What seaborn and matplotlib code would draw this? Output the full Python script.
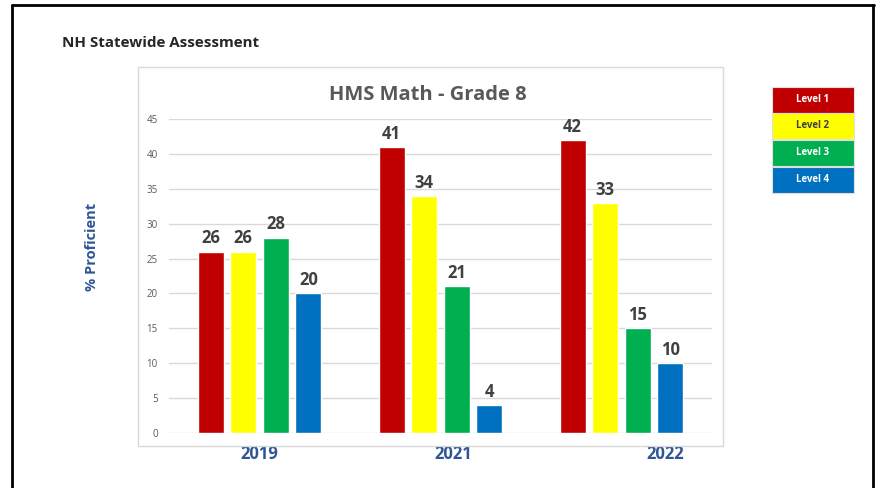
import matplotlib
matplotlib.use("Agg")
import matplotlib.pyplot as plt
import matplotlib.transforms as mtransforms
from matplotlib.patches import Rectangle
from matplotlib.lines import Line2D
import pandas as pd
import seaborn as sns

# ---- data ----
years = ["2019", "2021", "2022"]
levels = ["Level 1", "Level 2", "Level 3", "Level 4"]
level1 = [26, 41, 42]
level2 = [26, 34, 33]
level3 = [28, 21, 15]
level4 = [20, 4, 10]
level_colors = ["#C00000", "#FFFF00", "#00B050", "#0070C0"]
legend_text_colors = ["white", "#404040", "white", "white"]

rows = []
for lvl, vals in zip(levels, [level1, level2, level3, level4]):
    for yr, v in zip(years, vals):
        rows.append({"year": yr, "level": lvl, "pct": v})
df = pd.DataFrame(rows)

sns.set_theme(style="white")
plt.rcParams["font.family"] = ["Open Sans", "DejaVu Sans"]

W, H = 878, 488
fig = plt.figure(figsize=(W / 100, H / 100), dpi=100)
fig.patch.set_facecolor("white")

def fx(px):
    return px / W

def fy(py):
    return 1 - py / H

# plot area
ax = fig.add_axes([fx(169), fy(433), fx(712) - fx(169), (433 - 119) / H])
sns.barplot(data=df, x="year", y="pct", hue="level", hue_order=levels,
            order=years, palette=level_colors, saturation=1,
            width=0.72, gap=0.2, legend=False, ax=ax)

ax.set_xlim(-0.5, 2.5)
ax.set_ylim(0, 45)
ax.set_yticks(range(0, 46, 5))
ax.yaxis.grid(True, color="#D9D9D9", linewidth=1)
ax.set_axisbelow(True)
for s in ax.spines.values():
    s.set_visible(False)
ax.tick_params(axis="y", length=0, pad=8, labelsize=7, labelcolor="#595959")
ax.tick_params(axis="x", length=0, labelbottom=False)
ax.set_xlabel("")
ax.set_ylabel("")

for cont in ax.containers:
    ax.bar_label(cont, padding=3, fontsize=12, fontweight="bold",
                 color="#404040", clip_on=False)

# year labels below the groups
year_offsets = [0.0, 0.07, 0.24]
trans = mtransforms.blended_transform_factory(ax.transData, fig.transFigure)
for i, (yr, off) in enumerate(zip(years, year_offsets)):
    ax.text(i + off, fy(454), yr, transform=trans, ha="center", va="center",
            fontsize=12, fontweight="bold", color="#2F5597")

# chart frame
fig.patches.append(Rectangle((fx(138), fy(446)), fx(723) - fx(138), (446 - 67) / H,
                             transform=fig.transFigure, fill=False,
                             edgecolor="#D9D9D9", linewidth=1))

# chart title
fig.text(fx(428), fy(95), "HMS Math - Grade 8", ha="center", va="center",
         fontsize=14.5, fontweight="bold", color="#595959")

# axis title
fig.text(fx(92), fy(247), "% Proficient", rotation=90, ha="center", va="center",
         fontsize=10.5, fontweight="bold", color="#2F5597")

# slide heading
fig.text(fx(62), fy(43), "NH Statewide Assessment", ha="left", va="center",
         fontsize=10.9, fontweight="bold", color="#262626")

# legend boxes
box_tops = [87, 113, 140, 167]
box_h = 25.5
for lvl, col, tcol, top in zip(levels, level_colors, legend_text_colors, box_tops):
    fig.patches.append(Rectangle((fx(772), fy(top + box_h)), fx(854) - fx(772), box_h / H,
                                 transform=fig.transFigure, facecolor=col,
                                 edgecolor="#E0E0E0", linewidth=0.8))
    fig.text(fx(813), fy(top + box_h / 2), lvl, ha="center", va="center",
             fontsize=7, fontweight="bold", color=tcol)

# slide border
for xs, ys in [([12.5, 12.5], [5, 488]), ([12, 874], [5, 5]), ([873.5, 873.5], [5, 488])]:
    fig.lines.append(Line2D([fx(x) for x in xs], [fy(y) for y in ys],
                            transform=fig.transFigure, color="black", linewidth=2))

fig.savefig("out.png", dpi=100)
